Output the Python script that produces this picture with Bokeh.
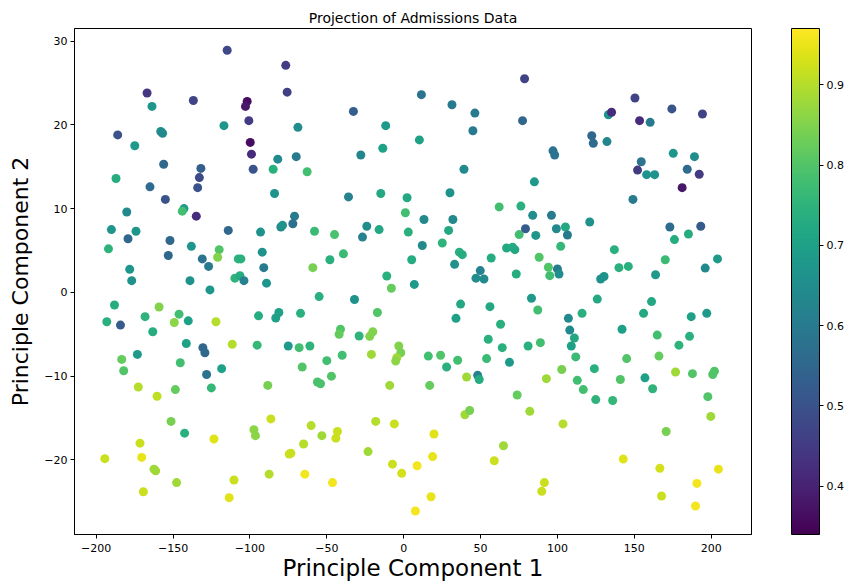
from bokeh.plotting import figure
from bokeh.models import (ColumnDataSource, LinearColorMapper, ColorBar, FixedTicker,
                          Range1d, PrintfTickFormatter)
from bokeh.palettes import Viridis256
from bokeh.embed import file_html
from bokeh.resources import INLINE

# ---- data ----
pc1_a = [-114.8, -76.7, -166.9, -75.8, -163.7, -136.8, -101.8, -102.9, -100.7, -116.9,
         -186.0, -158.0, -156.8, -174.9, -99.8, -99.0, -156.1, -131.9, -132.9, -134.0,
         -97.9, -81.9, -84.9, -187.1, -165.0, -155.0, -84.0, -180.1, -142.9, -144.0,
         -134.9, -190.1, -174.1, -179.3, -114.1, -93.1, -79.9, -78.8, -152.0, -192.0,
         -138.1, -120.0, -121.0, -153.1, -131.0, -126.9, -107.6, -105.9, -92.0, -91.0,
         -178.2, -109.8, -106.5]
pc2_a = [28.9, 27.1, 23.8, 23.9, 22.2, 22.9, 22.8, 22.2, 20.5, 19.9,
         18.8, 19.2, 19.0, 17.5, 17.9, 16.5, 15.3, 14.8, 13.7, 12.5,
         14.7, 15.9, 14.7, 13.6, 12.6, 11.1, 11.8, 9.6, 10.0, 9.7,
         9.1, 7.5, 7.3, 6.4, 7.4, 7.2, 7.8, 8.0, 6.2, 5.2,
         5.5, 5.1, 4.2, 4.4, 4.0, 3.1, 4.0, 4.0, 4.8, 2.95,
         2.75, 1.7, 2.0]
chance_a = [.48, .45, .44, .46, .67, .47, .36, .38, .45, .67,
            .50, .65, .64, .68, .36, .42, .55, .53, .48, .50,
            .50, .64, .74, .73, .56, .50, .66, .64, .68, .78,
            .42, .67, .67, .55, .55, .66, .64, .66, .55, .75,
            .67, .80, .85, .55, .58, .60, .75, .74, .66, .60,
            .67, .75, .73]

pc1_b = [78.6, 11.5, 31.4, 46.3, -32.7, -68.8, -11.7, 45.0, 77.3, 10.2,
         -13.6, -69.9, -27.9, -62.8, 39.2, -35.9, -14.9, 2.2, 30.1, 1.1,
         62.1, 76.2, -71.0, -72.1, 13.2, 32.0, -58.0, -45.0, -24.0, -26.8,
         -16.0, 3.0, 29.2, 75.1, 12.1, 25.1, -39.2, -48.0, -59.1, 36.2,
         38.1, 66.9, 70.8, 72.3, 56.9, 5.2, 33.1, 49.8, 47.0, 52.2,
         73.2, -11.0]
pc2_b = [25.5, 23.6, 22.4, 21.4, 21.6, 19.7, 19.9, 19.3, 20.5, 18.2,
         17.2, 16.2, 16.4, 14.4, 14.7, 11.4, 11.8, 11.3, 11.9, 9.5,
         10.2, 10.3, 9.1, 8.2, 8.7, 8.7, 7.3, 6.9, 7.9, 6.6,
         7.5, 7.2, 7.4, 6.9, 5.6, 5.9, 4.6, 3.9, 2.95, 4.8,
         4.5, 5.3, 5.4, 5.1, 4.1, 3.9, 3.35, 2.6, 1.7, 1.6,
         2.2, 1.95]
chance_b = [.47, .58, .60, .60, .53, .65, .68, .60, .55, .70,
            .70, .60, .63, .78, .64, .62, .72, .72, .66, .78,
            .78, .74, .60, .57, .64, .64, .77, .79, .65, .62,
            .72, .74, .72, .78, .64, .75, .77, .74, .84, .74,
            .73, .72, .73, .72, .73, .73, .66, .62, .65, .64,
            .73, .74]

pc1_c = [150.4, 174.4, 194.3, 133.1, 135.2, 153.4, 160.3, 122.3, 123.3, 132.2,
         97.1, 98.2, 175.3, 189.1, 154.5, 152.1, 158.0, 163.2, 184.4, 192.2,
         181.1, 85.0, 149.1, 83.9, 96.1, 79.2, 85.9, 99.3, 105.2, 106.5,
         121.0, 173.1, 193.2, 176.1, 185.2, 102.1, 137.0, 88.1, 94.1, 95.0,
         100.0, 101.0, 170.1, 204.1, 196.1, 140.0, 146.1, 163.8, 128.1, 130.3]
pc2_c = [23.2, 21.9, 21.3, 21.2, 21.5, 20.5, 20.3, 18.7, 17.8, 18.0,
         16.9, 16.4, 16.6, 16.2, 15.6, 14.6, 14.05, 14.05, 14.7, 14.1,
         12.5, 13.2, 11.1, 9.2, 9.2, 7.6, 6.8, 7.6, 7.8, 6.85,
         8.4, 7.8, 7.9, 6.3, 6.97, 5.5, 5.1, 4.2, 3.0, 2.0,
         2.8, 2.2, 3.9, 4.0, 2.9, 2.95, 3.1, 2.1, 1.6, 1.9]
chance_c = [.47, .50, .47, .66, .42, .42, .60, .55, .56, .63,
            .58, .58, .67, .65, .58, .45, .66, .66, .56, .45,
            .38, .68, .60, .65, .60, .52, .67, .64, .72, .60,
            .66, .56, .52, .73, .73, .76, .74, .80, .80, .78,
            .60, .65, .77, .68, .64, .74, .74, .68, .66, .66]

pc1_d = [-176.9, -139.0, -126.0, -103.9, -89.2, -188.1, -159.1, -193.1, -184.2, -168.2,
         -146.1, -149.2, -140.1, -122.1, -94.4, -83.2, -81.2, -163.2, -141.4, -130.6,
         -129.3, -111.5, -95.3, -75.1, -173.2, -183.4, -182.1, -145.3, -118.4, -128.2,
         -125.1, -172.6, -160.4, -148.5, -88.4, -151.3, -142.5, -123.4, -97.4, -96.4,
         -86.4, -171.5, -170.4, -194.4, -162.4, -161.3, -147.7, -169.3, -110.4, -113.5,
         -87.5, -74.5, -73.4]
pc2_d = [1.4, 1.4, 0.3, 1.4, 1.1, -1.5, -1.75, -3.5, -3.9, -2.9,
         -2.6, -3.6, -3.4, -3.5, -2.8, -3.06, -2.4, -4.7, -6.1, -6.6,
         -7.2, -6.2, -6.3, -6.4, -7.4, -8.0, -9.35, -8.4, -9.1, -9.8,
         -11.4, -11.3, -12.4, -11.6, -11.1, -15.4, -16.8, -17.5, -16.4, -17.1,
         -15.1, -18.0, -19.7, -19.85, -21.1, -21.3, -22.7, -23.8, -22.4, -24.5,
         -21.7, -19.3, -19.2]
chance_d = [.66, .66, .67, .62, .67, .73, .85, .74, .52, .75,
            .78, .86, .70, .90, .73, .70, .70, .73, .70, .55,
            .55, .90, .76, .68, .68, .82, .80, .78, .70, .58,
            .76, .90, .91, .82, .84, .84, .74, .94, .86, .86,
            .92, .92, .95, .92, .88, .88, .88, .92, .92, .94,
            .90, .92, .92]

pc1_e = [6.9, -8.0, -55.0, -32.0, 37.0, 56.1, -67.1, -17.1, 34.0, 63.0,
         -41.1, -42.0, -29.0, -22.1, -20.1, -68.0, -61.0, -50.0, -40.0, -66.0,
         -21.0, -3.2, -1.9, -4.5, -5.2, 16.0, 24.0, 35.1, 27.9, 53.9,
         64.1, 55.0, 68.8, 48.1, 49.1, 40.9, -56.1, -54.1, -47.0, -9.1,
         16.9, 73.8, 39.8, 42.9, -60.2, -18.2, -6.1, -53.2, -43.1, -44.1,
         -65.1, 19.7, -23.2, 18.8, 64.9, 58.9, -7.3, -1.3, 8.7, -64.3,
         -46.3, 17.8, 7.6]
pc2_e = [0.95, 0.5, -0.5, -0.85, -1.4, -1.7, -2.5, -2.4, -3.1, -3.8,
         -4.4, -5.0, -5.2, -5.25, -4.7, -6.6, -6.4, -8.15, -7.5, -8.9,
         -7.4, -6.4, -7.2, -7.8, -8.2, -7.6, -7.5, -8.1, -8.9, -7.9,
         -6.6, -5.6, -8.35, -9.9, -10.4, -10.1, -10.7, -10.9, -10.0, -11.1,
         -11.1, -12.25, -14.6, -14.1, -15.9, -15.4, -15.7, -17.1, -16.6, -17.4,
         -18.1, -16.9, -19.0, -19.6, -18.3, -20.1, -20.5, -21.6, -20.7, -21.7,
         -22.7, -24.4, -26.1]
chance_e = [.68, .82, .74, .66, .72, .72, .74, .80, .70, .74,
            .80, .82, .75, .85, .85, .78, .75, .78, .78, .80,
            .88, .85, .84, .88, .86, .78, .80, .78, .74, .77,
            .74, .74, .68, .62, .73, .88, .79, .79, .80, .88,
            .82, .82, .88, .84, .90, .90, .92, .88, .92, .92,
            .90, .94, .88, .95, .88, .92, .92, .93, .96, .96,
            .96, .95, .96]

pc1_f = [83.1, 87.2, 125.9, 161.2, 107.1, 108.0, 116.0, 111.0, 109.0, 80.9,
         88.9, 111.9, 156.0, 142.0, 187.0, 197.1, 164.9, 185.9, 179.0, 166.0,
         145.0, 124.0, 102.8, 92.8, 112.9, 116.8, 140.9, 156.9, 161.9, 124.9,
         135.9, 176.8, 187.8, 201.0, 202.1, 197.8, 199.7, 82.0, 103.6, 170.7,
         142.8, 166.6, 204.7, 190.7, 91.5, 89.8, 167.7, 189.8]
pc2_f = [-0.7, -2.1, -0.8, -1.1, -3.1, -4.5, -2.5, -5.45, -6.4, -6.4,
         -6.0, -7.7, -2.5, -4.4, -2.9, -2.5, -5.1, -5.25, -6.3, -7.6,
         -7.9, -9.1, -9.2, -10.3, -10.5, -11.6, -10.4, -10.2, -11.5, -12.8,
         -12.9, -9.5, -9.7, -9.8, -9.4, -12.45, -14.8, -14.2, -15.7, -16.6,
         -19.9, -21.0, -21.1, -22.8, -22.7, -23.75, -24.3, -25.5]
chance_f = [.68, .78, .72, .72, .64, .64, .74, .72, .70, .74,
            .78, .77, .72, .70, .70, .68, .78, .74, .75, .82,
            .80, .74, .84, .88, .78, .78, .80, .70, .75, .75,
            .76, .88, .80, .80, .80, .80, .88, .88, .90, .84,
            .94, .93, .95, .96, .92, .92, .92, .96]

x_ticks = [-200, -150, -100, -50, 0, 50, 100, 150, 200]
y_ticks = [-20, -10, 0, 10, 20, 30]
cbar_ticks = [0.4, 0.5, 0.6, 0.7, 0.8, 0.9]
chance_low, chance_high = 0.34, 0.97

pc1 = pc1_a + pc1_b + pc1_c + pc1_d + pc1_e + pc1_f
pc2 = pc2_a + pc2_b + pc2_c + pc2_d + pc2_e + pc2_f
chance = chance_a + chance_b + chance_c + chance_d + chance_e + chance_f
assert len(pc1) == len(pc2) == len(chance), (len(pc1), len(pc2), len(chance))

FONT = "DejaVu Sans"

mapper = LinearColorMapper(palette=Viridis256, low=chance_low, high=chance_high)
source = ColumnDataSource(dict(pc1=pc1, pc2=pc2, chance=chance))

p = figure(width=846, height=584, output_backend="svg", toolbar_location=None,
           x_range=Range1d(-214.1, 226.2), y_range=Range1d(-28.9, 31.5),
           min_border_left=74, min_border_right=94, min_border_top=28, min_border_bottom=50,
           title="Projection of Admissions Data")
p.background_fill_color = "white"
p.border_fill_color = "white"
p.outline_line_color = "black"
p.outline_line_width = 1
p.grid.visible = False

p.title.align = "center"
p.title.text_font = FONT
p.title.text_font_size = "14px"
p.title.text_font_style = "normal"
p.title.text_color = "black"
p.title.standoff = 5

for ax in (p.xaxis[0], p.yaxis[0]):
    ax.axis_label_text_font = FONT
    ax.axis_label_text_font_style = "normal"
    ax.axis_label_text_color = "black"
    ax.major_label_text_font = FONT
    ax.major_label_text_font_size = "11px"
    ax.major_label_text_color = "black"
    ax.major_tick_in = 0
    ax.major_tick_out = 4
    ax.minor_tick_line_color = None
    ax.axis_line_color = "black"
    ax.major_tick_line_color = "black"

p.xaxis[0].axis_label = "Principle Component 1"
p.yaxis[0].axis_label = "Principle Component 2"
p.xaxis[0].axis_label_text_font_size = "23px"
p.yaxis[0].axis_label_text_font_size = "22px"
p.xaxis[0].major_label_standoff = 5
p.yaxis[0].major_label_standoff = 3
p.xaxis[0].axis_label_standoff = 0
p.yaxis[0].axis_label_standoff = 8
p.xaxis[0].ticker = FixedTicker(ticks=x_ticks)
p.yaxis[0].ticker = FixedTicker(ticks=y_ticks)
p.xaxis[0].major_label_overrides = {t: str(t).replace("-", "\u2212") for t in x_ticks}
p.yaxis[0].major_label_overrides = {t: str(t).replace("-", "\u2212") for t in y_ticks}

p.scatter(x="pc1", y="pc2", source=source, size=9,
          fill_color={"field": "chance", "transform": mapper},
          line_color=None)

cb = ColorBar(color_mapper=mapper, ticker=FixedTicker(ticks=cbar_ticks),
              formatter=PrintfTickFormatter(format="%.1f"),
              width=28, height=506, padding=0, margin=0, location=(40, 0),
              major_tick_in=0, major_tick_out=4, major_tick_line_color="black",
              bar_line_color="black", bar_line_width=1,
              major_label_text_font=FONT, major_label_text_font_size="11px",
              major_label_text_color="black", label_standoff=3,
              background_fill_alpha=0, border_line_color=None)
p.add_layout(cb, "right")

open("out.html", "w").write(file_html(p, INLINE))
